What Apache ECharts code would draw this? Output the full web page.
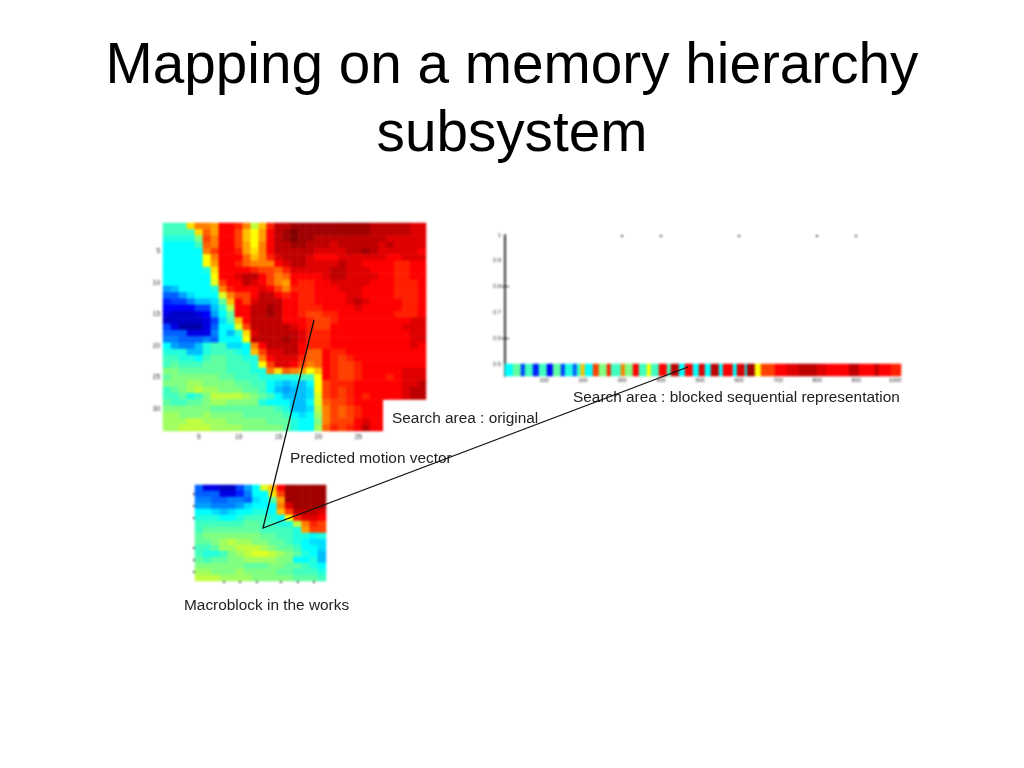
<!DOCTYPE html>
<html><head><meta charset="utf-8">
<style>html,body{margin:0;padding:0;background:#fff}
#c{position:absolute;left:0;top:0;width:1024px;height:768px;filter:blur(0.8px)}
#t{position:absolute;left:0;top:0;width:1024px;height:768px}</style>
<script src="https://cdn.jsdelivr.net/npm/echarts@6/dist/echarts.min.js"></script>
</head><body><div id="c"></div><div id="t"></div>
<script>
// Values on a 0..16 jet scale.
const searchRows = [
[7,7,7,10.5,12,12,11.5,14,14,13.5,12,9,11,13.5,15,15,15.5,15.5,15.5,15.5,15.5,15.5,15.5,15.5,15.5,15.5,15,15,15,15,15,14.5,14.5],
[7,7,7,7,10.5,12.5,11.5,14,14,13,11,10,11.5,14,15,15.5,16,15.5,15.5,15.5,15.5,15.5,15.5,15.5,15.5,15.5,15,15,15,15,15,14.5,14.5],
[6.5,6.5,6.5,6.5,8,13,12,14,14,13,11,10,11.5,14,15,15.5,16,15.5,15.5,15,15,15,15,15,15,15,15,15,14.5,14.5,14.5,14.5,14.5],
[6,6,6,6,7,12.5,12,14,14,13,11.5,10,12,14,15,15,15.5,15.5,15,15,15,14.5,15,15,15,15,15,14.5,15,14.5,14.5,14.5,14.5],
[6,6,6,6,6,12,13,14,14,13.5,11.5,10.5,12,14,15,15,15,15,15,14.5,14.5,14.5,14.5,15,15,15.5,15,14.5,14.5,14.5,14.5,14.5,14],
[6,6,6,6,6,10,12,14,14,14,12.5,11,12,13.5,14.5,15,15,15,14.5,14,14,14,14.5,14.5,14.5,14.5,14.5,14.5,14,14,14.5,14.5,14.5],
[6,6,6,6,6,10,11.5,14,14,13.5,12.5,12,12,12,14,14.5,15,15,14.5,14.5,14.5,14.5,15,14.5,14.5,14,14,14,14,13.5,13.5,14,14],
[6,6,6,6,6,6.5,10.5,14,14,14,14,13.5,13,13,12.5,13.5,14.5,14.5,14.5,14.5,14.5,15,15,14.5,14.5,14.5,14,14,14,13.5,13.5,14,14],
[6,6,6,6,6,6,10,14,14,14.5,15,15,14,13,12,12.5,14,14,14,14,14.5,15,15,14.5,14.5,14.5,14.5,14,14,13.5,13.5,14,14],
[6,6,6,6,6,6,9.5,13,14,14,15,14.5,14,13,12,11.5,14,13.5,13.5,14,14,14.5,14.5,14.5,14.5,14.5,14,14,14,13.5,13.5,13.5,14],
[4.5,5,6,6,6,6,6.5,12,13.5,14,14,14,14.5,14,13,12,13.5,13.5,13.5,14,14,14,14.5,14.5,14.5,14,14,14,14,13.5,13.5,13.5,14],
[3.5,3.5,4.5,5.5,6,6,6,9.5,12,13,13,14,15,15,14,13.5,14,13.5,13.5,14,14,14,14,14.5,14.5,14,14,14,14,13.5,13.5,13.5,14],
[2.5,3,3,4,5,5,5.5,7.5,11,14,13,14.5,15,15,15,14,14,13.5,13.5,14,14,14,14,14.5,15,14.5,14,14,14,14,13.5,13.5,14],
[2,2,2,2,3,3,5,6.5,9,14,14,15,15,15.5,15,14,14,13.5,13.5,13.5,14,14,14,14,14.5,14,14,14,14,14,13.5,13.5,14],
[1.5,1,1,1,1.5,2,4.5,6,7.5,14,14,15,15,15.5,15,14,14,13.5,13,13,13.5,13.5,14,14,14,14,14,14,14,13.5,13.5,13.5,14],
[1,1,1,1,1,1.5,3,5.5,7,11,14,15,15,15,15,14,14,14,13.5,13,13,13.5,14,14,14,14,14,14,14,14,14,14.5,14.5],
[3,1.5,0.5,0.5,0.5,1.5,3.5,6,6,9.5,13,15,15,15,15,15,14.5,14,13.5,13,13,14,14,14,14,14,14,14,14,14,14.5,14.5,14.5],
[3.5,3.5,3.5,1.5,1.5,1.5,4,6,5,6.5,10.5,14.5,15,15,15,15,15,14.5,13.5,13.5,13.5,14,14,14,14,14,14,14,14,14,14,14.5,14.5],
[4,4,3.5,3.5,3.5,4,3.5,6,6,6,10,15,15,15,15,15.5,15,14.5,13.5,13.5,13.5,14,14,14,14,14,14,14,14,14,14,14.5,14.5],
[6,4.5,4,4,5,6.5,7,7,5.5,5.5,6,12,14,15,15,15,15,14,13.5,13.5,13.5,14,14,14,14,14,14,14,14,14,14,14.5,14],
[6.5,6.5,6.5,5,5,6.5,7,7,7,6.5,6,11,13,14.5,14.5,15,15,14,12.5,12.5,14,13.5,13.5,14,14,14,14,14,14,14,14,14,14],
[7,7,6.5,6.5,6,7,7.5,7.5,7,7,6.5,6.5,12,14,14.5,14.5,14.5,13.5,12.5,12.5,14,13.5,13,13.5,14,14,14,14,14,14,14,14,14],
[7,7.5,7,7,7,7.5,7.5,7.5,7,7,7,6.5,10,13,14.5,14.5,14,13,12,12.5,14,13.5,13,13,13.5,14,14,14,14,14,14,14,14],
[8,8,7.5,7.5,7.5,7.5,7.5,7.5,7,7,7,6.5,6.5,12,10.5,12.5,12,11.5,10,11,14,13.5,13,13,13.5,14,14,14,14,14,14.5,14.5,14.5],
[7.5,8,8,8,8,8,8,7.5,7.5,7,7,7,6.5,6.5,6.5,6.5,6.5,7,7,10,14,13.5,13,13,13.5,14,14,14,13.5,14,14.5,14.5,14.5],
[8,8,8,8.5,8.5,8,8,8,8,7.5,7.5,7,7,6,5.5,5,5.5,5,6,10,13,13.5,13.5,13.5,14,14,14,14,14,14,14.5,14.5,15],
[7,7.5,8,8.5,9,8.5,8.5,8,8,8,7.5,7.5,7,6,5,4.5,5,5,5.5,10,13,13.5,13,13.5,14,14,14,14,14,14,14.5,15,15],
[7,7,7.5,6.5,7,8,9,9,9,9,8.5,8,7.5,7,6,5,5,5,5.5,9.5,13,13.5,13,13.5,14,13.5,14,14,14,14,14.5,15,15],
[7.5,7,7,7.5,7.5,8,8.5,8.5,8,8,8,8,6.5,6,6,6,5,5,6,9.5,12.5,13,13,13.5,14,14,14,14],
[8,8,8,8,8,8,7.5,7.5,7.5,7.5,7.5,7.5,7.5,7.5,7,6.5,5,5,5.5,9,12,13,12.5,13,13.5,14,14,14],
[8.5,8.5,8,8,8,8.5,8,8,8,8,7.5,7.5,7.5,7.5,7.5,7,6,5.5,6,8.5,12,13,12.5,13,13.5,14,14,14],
[8.5,8.5,8.5,9,9,8.5,8.5,8.5,8,8,8,8,8,7.5,7.5,7.5,6.5,6,6,8,12,13,13,13,14,14.5,14,14],
[8.5,8.5,9,9,9,9,8.5,8.5,8.5,8.5,8,8,8,8,8,7.5,6.5,6,6,8.5,12.5,13.5,13,13.5,14,15,14,14]
];
const macroRows = [
[3.5,1.5,1.5,1,1,3,4.5,6,9.5,11,14,15.5,15.5,15.5,15.5,15.5],
[3.5,3.5,3.5,1.5,1.5,2.5,4,6,6,10.5,13,15.5,15.5,15.5,15.5,15.5],
[4,4,3.5,3.5,4,4,3.5,5.5,6,7.5,11.5,15.5,15.5,15.5,15.5,15.5],
[4.5,4.5,4,4,4,4.5,5.5,6,6,6,12,14.5,15.5,15.5,15.5,15.5],
[6,6,5.5,5,5.5,6,6,6.5,6.5,6,11,13,15,15,15,14.5],
[6.5,6.5,6.5,6,6,6.5,7,7,7,6.5,6,10,13.5,14.5,14.5,14],
[7,7,7,7,7,7,7.5,7.5,7,7,6.5,6.5,9,12,13.5,13],
[7,7.5,7.5,7.5,7.5,7.5,7.5,7.5,7,7,7,7,6.5,11.5,13,13],
[7.5,8,8,8,8,8,8,8,7.5,7.5,7,7,6.5,6.5,6,6.5],
[7.5,7.5,8,8.5,9,8.5,8.5,8,8,7.5,7.5,7,6.5,6,5.5,5.5],
[7,7,7.5,8.5,8.5,9,9,9,8.5,8,7.5,7.5,7,6,6,5.5],
[7,6.5,6.5,7,8,8.5,9,9.5,9.5,9,8.5,8,7.5,6.5,6,5],
[7.5,7,7.5,7.5,8,8,8.5,8.5,8.5,8.5,8,8,6,6,6.5,5],
[8,8,8,8,8,8,7.5,7.5,7.5,8,8,7.5,7.5,7,6.5,6],
[8.5,8.5,8,8,8,8.5,8,8,8,8,7.5,7.5,7,7,7,6.5],
[9,9,9,8.5,8.5,8.5,8.5,8,8,8,8,8,7.5,7.5,7.5,7]
];
// Blocked sequential strip: colour values and how many samples each run lasts.
const stripValues = [6,7.5,3,7,2.5,7,2,7.5,3,6.5,3.5,7,11,6,13,8,13.5,7,12,8,14,7,10,7,14,7,15,6,14,6,14.5,6,15,6,14,6,14.5,6,15.5,10,13,14,14.5,15,14.5,14,15,14,15,14,13.5];
const stripLengths = [4,4,2,4,3,4,3,4,2,4,2,2,2,4,3,4,2,5,2,4,3,4,2,4,4,2,4,3,4,3,3,3,4,2,5,2,4,1,4,3,7,6,6,9,5,11,5,8,2,6,5];
const searchXTicks = ['5','10','15','20','25'];
const searchYTicks = ['5','10','15','20','25','30'];
const macroXTickCells = [3,5,7,10,12,14];
const macroYTickCells = [1,3,5,10,12,14];
const stripXTicks = [100,200,300,400,500,600,700,800,900,1000];
const stripTopTicks = [300,400,600,800,900];
const stripYTicks = [0.5,0.6,0.7,0.8,0.9,1];
const stripRightTicks = [0.6,0.8];
const jet = ['#00008f','#0000c7','#0000ff','#0040ff','#0080ff','#00bfff','#00ffff','#40ffbf','#80ff80','#bfff40','#ffff00','#ffbf00','#ff8000','#ff4000','#ff0000','#bf0000','#800000'];

const toCells = rows => rows.flatMap((r,y)=>r.map((v,x)=>[x,y,v]));
const stripData = []; stripValues.forEach((v,i)=>{for(let k=0;k<stripLengths[i];k++)stripData.push([stripData.length,0,v]);});
const seq = n => Array.from({length:n},(_,i)=>String(i+1));
const none = {show:false};
const textFont = '"Liberation Sans",Arial,sans-serif';
const caption = (text,left,top)=>({text,left,top,padding:0,textStyle:{fontFamily:textFont,fontSize:15.4,fontWeight:'normal',color:'#222'}});
const tick = {fontSize:6.5,color:'#222',fontFamily:textFont};

const overlay = echarts.init(document.getElementById('t'));
overlay.setOption({
  animation:false,
  title:[
    {text:'Mapping on a memory hierarchy\nsubsystem',left:512,top:33,padding:0,textAlign:'center',
     textStyle:{fontFamily:textFont,fontSize:56.7,fontWeight:'normal',color:'#000',lineHeight:68,align:'center'}},
    caption('Search area : original',392,411.5),
    caption('Search area : blocked sequential representation',573,390.5),
    caption('Predicted motion vector',290,451.5),
    caption('Macroblock in the works',184,598.5)
  ],
  graphic:[
    {type:'polyline',z:60,shape:{points:[[314,320],[263,528],[688,367]]},style:{stroke:'#111',lineWidth:1.3,fill:null}}
  ]
});

const chart = echarts.init(document.getElementById('c'));
chart.setOption({
  animation:false, backgroundColor:'#fff',
  visualMap:{show:false,type:'continuous',min:0,max:16,seriesIndex:[0,1,2],inRange:{color:jet}},
  grid:[
    {left:163,top:223,width:263,height:208},
    {left:195,top:485,width:131,height:96},
    {left:505,top:364,width:396,height:12},
    {left:505,top:235,width:396,height:141}
  ],
  xAxis:[
    {type:'category',gridIndex:0,data:seq(33),axisLine:none,axisTick:none,
     axisLabel:{...tick,margin:3,interval:(i,v)=>searchXTicks.includes(v)}},
    {type:'category',gridIndex:1,data:seq(16),axisLine:none,axisLabel:none,
     axisTick:{show:true,alignWithLabel:true,length:2,lineStyle:{color:'#111',width:1.5},interval:i=>macroXTickCells.includes(i)}},
    {type:'category',gridIndex:2,data:stripData.map(d=>d[0]),axisLine:none,axisTick:none,axisLabel:none},
    {type:'value',gridIndex:3,position:'bottom',min:0,max:1015,axisLine:none,axisTick:none,splitLine:none,
     axisLabel:{...tick,fontSize:5.5,margin:1,formatter:v=>String(v),customValues:stripXTicks}},
    {type:'value',gridIndex:3,position:'top',min:0,max:1015,axisLine:none,axisLabel:none,splitLine:none,
     axisTick:{show:true,inside:true,length:2,lineStyle:{color:'#111',width:1.5},customValues:stripTopTicks}}
  ],
  yAxis:[
    {type:'category',gridIndex:0,inverse:true,data:seq(33),axisLine:none,axisTick:none,
     axisLabel:{...tick,margin:3,interval:(i,v)=>searchYTicks.includes(v)}},
    {type:'category',gridIndex:1,inverse:true,data:seq(16),axisLine:none,axisLabel:none,
     axisTick:{show:true,alignWithLabel:true,length:2,lineStyle:{color:'#111',width:1.5},interval:i=>macroYTickCells.includes(i)}},
    {type:'category',gridIndex:2,data:['1'],axisLine:none,axisTick:none,axisLabel:none},
    {type:'value',gridIndex:3,position:'left',min:0.4535,max:1,splitLine:none,
     axisLine:{show:true,lineStyle:{color:'#333',width:2}},
     axisTick:{show:true,inside:true,length:4,lineStyle:{color:'#222'},customValues:stripRightTicks},
     axisLabel:{...tick,fontSize:5.5,margin:4,customValues:stripYTicks}},
    {type:'value',gridIndex:3,position:'right',min:0.4535,max:1,axisLine:none,axisLabel:none,splitLine:none,
     axisTick:{show:true,inside:true,length:3,lineStyle:{color:'#222',width:1.2},customValues:stripRightTicks}}
  ],
  series:[
    {type:'heatmap',xAxisIndex:0,yAxisIndex:0,data:toCells(searchRows),progressive:0},
    {type:'heatmap',xAxisIndex:1,yAxisIndex:1,data:toCells(macroRows),progressive:0},
    {type:'heatmap',xAxisIndex:2,yAxisIndex:2,data:stripData,progressive:0}
  ],
  graphic:[
    {type:'rect',z:3,shape:{x:383,y:400,width:44,height:32},style:{fill:'#fff'}}
  ]
});
</script></body></html>
